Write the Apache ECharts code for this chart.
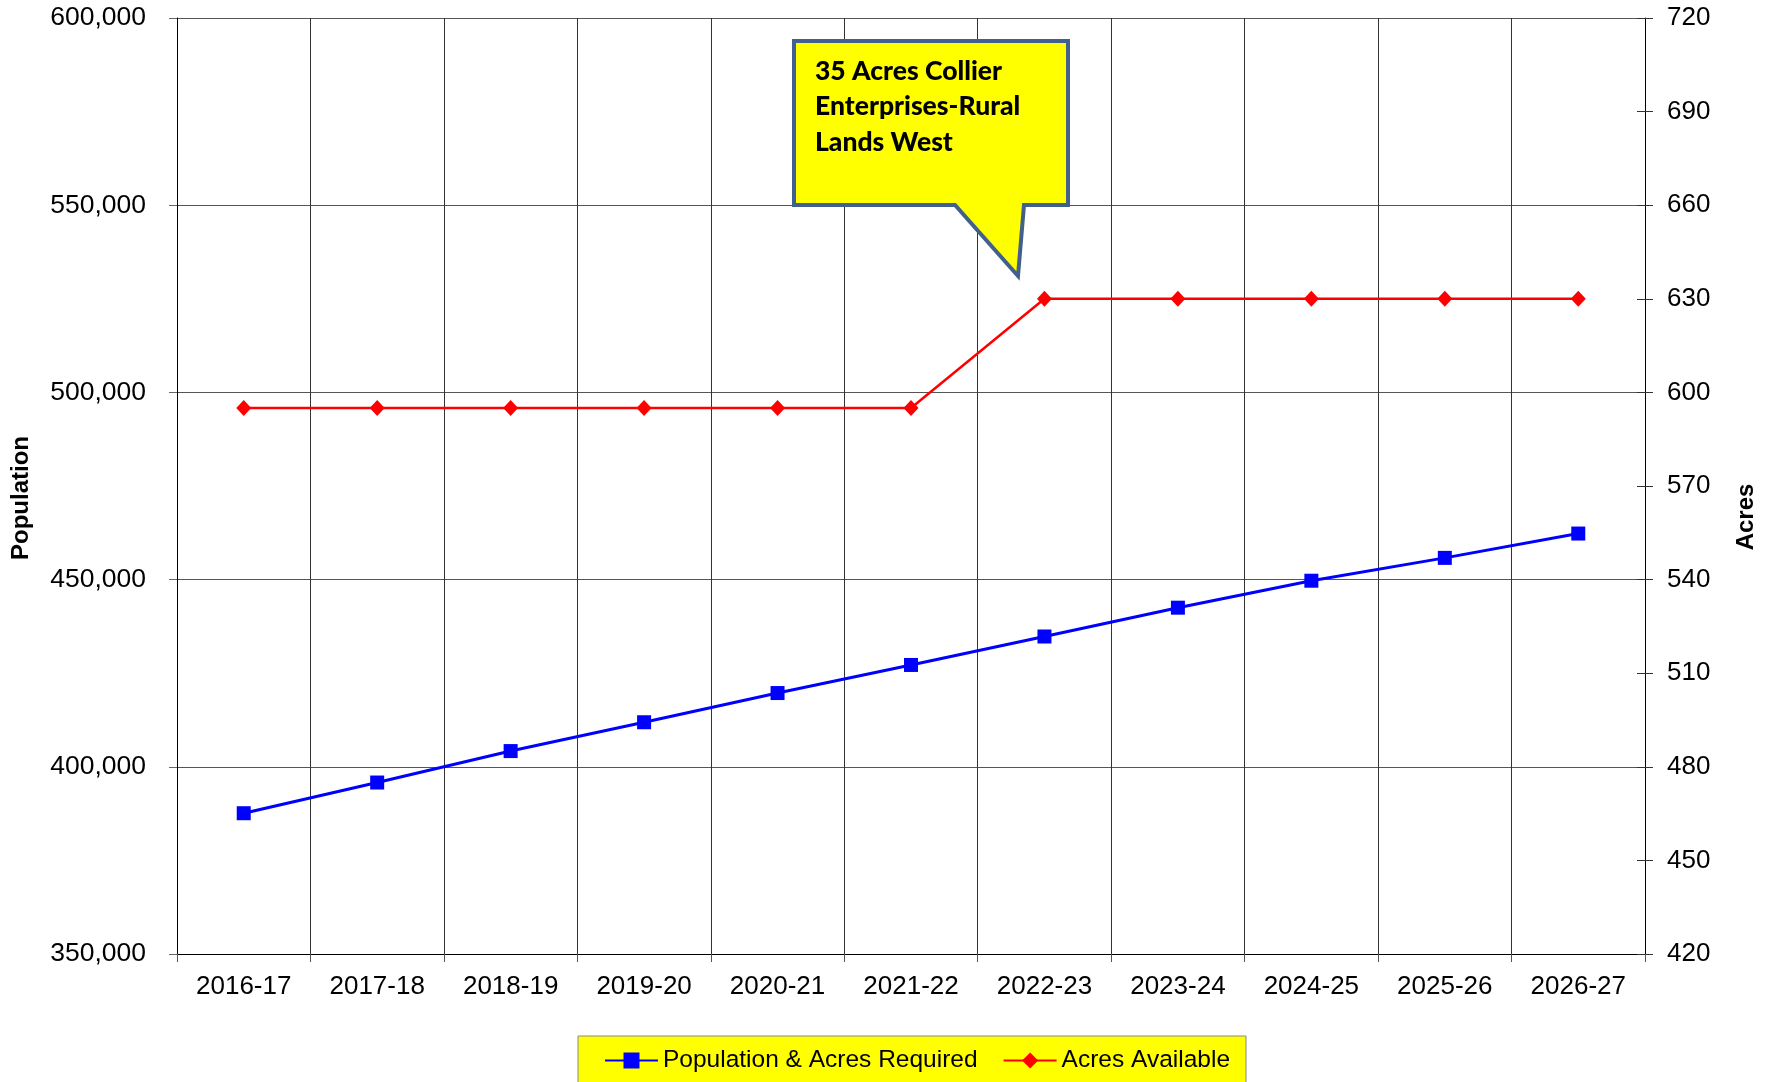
<!DOCTYPE html>
<html>
<head>
<meta charset="utf-8">
<script src="https://cdn.jsdelivr.net/npm/echarts@6/dist/echarts.min.js"></script>
<style>
html,body{margin:0;padding:0;background:#fff;}
#chart{width:1782px;height:1082px;}
</style>
</head>
<body>
<div id="chart"></div>
<script>
const categories = ['2016-17','2017-18','2018-19','2019-20','2020-21','2021-22','2022-23','2023-24','2024-25','2025-26','2026-27'];
const populationRequired = [387600, 395800, 404200, 411900, 419700, 427200, 434800, 442500, 449700, 455800, 462300];
const acresAvailable = [595, 595, 595, 595, 595, 595, 630, 630, 630, 630, 630];
const calloutLines = ['35 Acres Collier', 'Enterprises-Rural', 'Lands West'];
const seriesNames = ['Population & Acres Required', 'Acres Available'];
const axisTitles = ['Population', 'Acres'];

const FONT = "'Liberation Sans', Arial, sans-serif";
const chart = echarts.init(document.getElementById('chart'), null, {renderer: 'canvas'});

const fmt = v => v.toLocaleString('en-US');

const calloutGraphics = [
  {
    type: 'polygon',
    z: 100,
    shape: {points: [[794,41],[1068,41],[1068,205],[1024,205],[1018,276],[955,205],[794,205]]},
    style: {fill: '#FFFF00', stroke: '#41618C', lineWidth: 4, lineJoin: 'miter'}
  }
];
const lineY = [71, 106, 142];
calloutLines.forEach((t, i) => {
  calloutGraphics.push({
    type: 'text', z: 101, x: 815, y: lineY[i],
    style: {text: t, fill: '#000', font: "900 26.5px Lato, 'Open Sans', sans-serif", align: 'left', verticalAlign: 'middle'}
  });
});

const option = {
  animation: false,
  backgroundColor: '#fff',
  textStyle: {fontFamily: FONT},
  grid: {left: 177, right: 137, top: 18, bottom: 128, containLabel: false},
  legend: {
    left: 578, top: 1036,
    backgroundColor: '#FFFF00', borderColor: '#888888', borderWidth: 1,
    padding: [12, 16, 30, 26],
    itemWidth: 53, itemHeight: 20, itemGap: 25,
    textStyle: {fontFamily: FONT, fontSize: 24.5, color: '#000'},
    data: seriesNames
  },
  xAxis: {
    type: 'category', data: categories, boundaryGap: true,
    axisLine: {show: true, lineStyle: {color: '#000', width: 1}},
    axisTick: {show: true, length: 8, lineStyle: {color: '#555'}},
    axisLabel: {fontFamily: FONT, fontSize: 26, color: '#000', margin: 20},
    splitLine: {show: true, lineStyle: {color: '#333', width: 1}}
  },
  yAxis: [
    {
      type: 'value', min: 350000, max: 600000, interval: 50000, position: 'left',
      axisLine: {show: true, lineStyle: {color: '#000'}},
      axisTick: {show: true, length: 8, lineStyle: {color: '#666'}},
      axisLabel: {fontFamily: FONT, fontSize: 26.5, color: '#000', margin: 31, formatter: fmt},
      splitLine: {show: true, lineStyle: {color: '#555', width: 1}}
    },
    {
      type: 'value', min: 420, max: 720, interval: 30, position: 'right',
      axisLine: {show: true, lineStyle: {color: '#000'}},
      axisTick: {show: true, length: 8, lineStyle: {color: '#333'}},
      axisLabel: {fontFamily: FONT, fontSize: 26, color: '#000', margin: 22},
      splitLine: {show: false}
    },
    {
      type: 'value', min: 420, max: 720, interval: 30, position: 'right',
      axisLine: {show: false},
      axisTick: {show: true, inside: true, length: 8, lineStyle: {color: '#333'}},
      axisLabel: {show: false},
      splitLine: {show: false}
    }
  ],
  graphic: [
    {
      type: 'text', x: 21, y: 498, rotation: Math.PI / 2, z: 50,
      style: {text: axisTitles[0], fill: '#000', font: "bold 24px 'Liberation Sans', Arial, sans-serif", align: 'center', verticalAlign: 'middle'}
    },
    {
      type: 'text', x: 1746, y: 517, rotation: Math.PI / 2, z: 50,
      style: {text: axisTitles[1], fill: '#000', font: "bold 24px 'Liberation Sans', Arial, sans-serif", align: 'center', verticalAlign: 'middle'}
    }
  ].concat(calloutGraphics),
  series: [
    {
      name: seriesNames[0], type: 'line', yAxisIndex: 0, data: populationRequired,
      symbol: 'rect', symbolSize: 14,
      lineStyle: {color: '#0000FF', width: 3},
      itemStyle: {color: '#0000FF'},
      z: 3
    },
    {
      name: seriesNames[1], type: 'line', yAxisIndex: 1, data: acresAvailable,
      symbol: 'diamond', symbolSize: [15, 16],
      lineStyle: {color: '#FF0000', width: 2.5},
      itemStyle: {color: '#FF0000'},
      z: 3
    }
  ]
};
chart.setOption(option);
</script>
</body>
</html>
